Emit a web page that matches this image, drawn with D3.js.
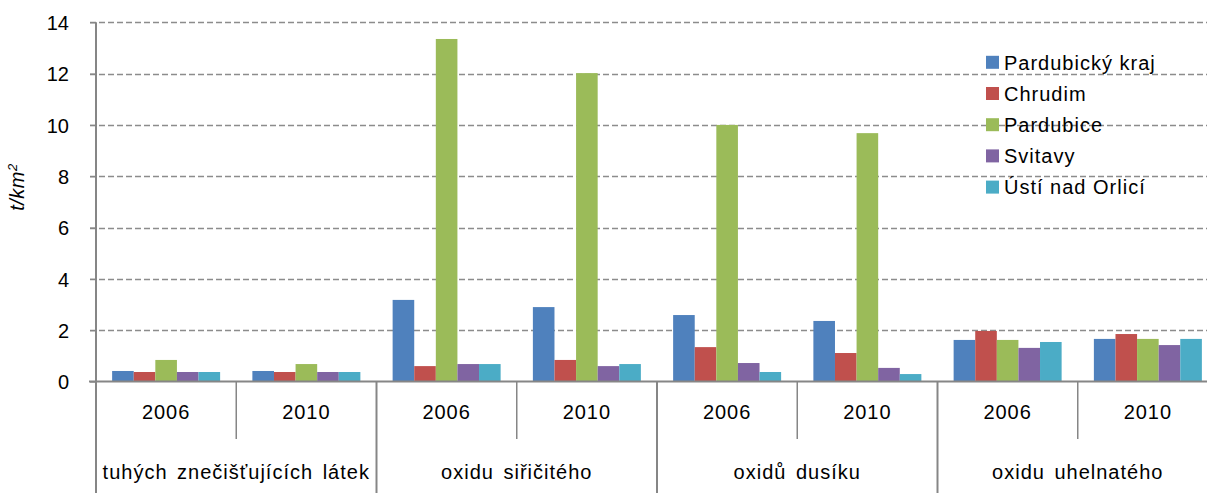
<!DOCTYPE html>
<html>
<head>
<meta charset="utf-8">
<script src="https://cdn.jsdelivr.net/npm/d3@7"></script>
<style>
  html, body { margin: 0; padding: 0; background: #fff; }
  svg { display: block; overflow: hidden; font-family: "Liberation Sans", Arial, sans-serif; }
  .lbl { font-size: 20px; fill: #000; letter-spacing: 1px; }
</style>
</head>
<body>
<div id="chart"></div>
<script>
// data
const pollutants = ['tuhých znečišťujících látek', 'oxidu siřičitého', 'oxidů dusíku', 'oxidu uhelnatého']
const years = ['2006', '2010']
const regions = ['Pardubický kraj', 'Chrudim', 'Pardubice', 'Svitavy', 'Ústí nad Orlicí']
const colors = ['#4F81BD', '#C0504D', '#9BBB59', '#8064A2', '#4BACC6']

// one value per pollutant/year, in region order
const pardubickyKraj = [0.41, 0.41, 3.18, 2.90, 2.59, 2.36, 1.62, 1.66]
const chrudim        = [0.37, 0.37, 0.60, 0.84, 1.34, 1.11, 1.97, 1.85]
const pardubice      = [0.84, 0.68, 13.35, 12.02, 10.0, 9.68, 1.62, 1.66]
const svitavy        = [0.37, 0.37, 0.68, 0.60, 0.72, 0.53, 1.31, 1.42]
const ustiNadOrlici  = [0.37, 0.37, 0.68, 0.68, 0.37, 0.29, 1.54, 1.66]
const yTicks = [0, 2, 4, 6, 8, 10, 12, 14]

const seriesValues = [pardubickyKraj, chrudim, pardubice, svitavy, ustiNadOrlici]

const width = 1207, height = 493
const plotLeft = 96, plotRight = 1218, plotTop = 22.3, zeroY = 381.5

const groups = []
pollutants.forEach(p => years.forEach(yr => groups.push({ pollutant: p, year: yr, key: p + '|' + yr })))

const svg = d3.select('#chart').append('svg')
    .attr('width', width)
    .attr('height', height)

const x0 = d3.scaleBand()
    .domain(groups.map(g => g.key))
    .range([plotLeft, plotRight])
    .padding(0)

const bw = x0.bandwidth()
const x1 = d3.scaleBand()
    .domain(regions)
    .range([bw * 0.115, bw * 0.885])
    .padding(0)

const y = d3.scaleLinear()
    .domain([0, 14])
    .range([zeroY, plotTop])

// dashed gridlines
svg.append('g')
  .selectAll('line')
  .data(yTicks.filter(t => t > 0))
  .enter().append('line')
    .attr('x1', plotLeft - 6)
    .attr('x2', plotRight)
    .attr('y1', d => Math.round(y(d)) + 0.5)
    .attr('y2', d => Math.round(y(d)) + 0.5)
    .attr('stroke', '#8c8c8c')
    .attr('stroke-width', 1.3)
    .attr('stroke-dasharray', '6,3')

// y axis labels + ticks
const yAxis = svg.append('g')
    .attr('transform', 'translate(' + plotLeft + ',0)')
    .call(d3.axisLeft(y).tickValues(yTicks).tickSize(6).tickPadding(21).tickFormat(d3.format('d')))
yAxis.select('.domain').remove()
yAxis.selectAll('.tick line').attr('stroke', '#868686').attr('stroke-width', 1.3)
yAxis.selectAll('.tick text')
    .attr('class', 'lbl')
    .attr('fill', '#000')
    .style('font-family', '"Liberation Sans", Arial, sans-serif')
    .style('letter-spacing', '0px')
    .attr('dy', '0.36em')

// bars
const barGroups = svg.append('g')
  .selectAll('g')
  .data(groups)
  .enter().append('g')
    .attr('transform', d => 'translate(' + x0(d.key) + ',0)')

barGroups.selectAll('rect')
  .data((d, i) => regions.map((r, s) => ({ region: r, s: s, value: seriesValues[s][i] })))
  .enter().append('rect')
    .attr('x', d => x1(d.region))
    .attr('width', x1.bandwidth())
    .attr('y', d => y(d.value))
    .attr('height', d => y(0) - y(d.value))
    .attr('fill', d => colors[d.s])

// axis lines
svg.append('line')
    .attr('x1', plotLeft - 7).attr('x2', plotRight)
    .attr('y1', zeroY).attr('y2', zeroY)
    .attr('stroke', '#868686').attr('stroke-width', 2)
svg.append('line')
    .attr('x1', plotLeft).attr('x2', plotLeft)
    .attr('y1', plotTop).attr('y2', height)
    .attr('stroke', '#868686').attr('stroke-width', 2)

// category separators
const cat = svg.append('g')
groups.forEach((g, i) => {
  if (i === 0) return
  const isCatEdge = i % years.length === 0
  cat.append('line')
      .attr('x1', x0(g.key)).attr('x2', x0(g.key))
      .attr('y1', zeroY).attr('y2', isCatEdge ? height : 439)
      .attr('stroke', '#868686').attr('stroke-width', isCatEdge ? 2 : 1.5)
})

// year labels
cat.selectAll('text.year')
  .data(groups)
  .enter().append('text')
    .attr('class', 'lbl year')
    .attr('x', d => x0(d.key) + bw / 2)
    .attr('y', 412)
    .attr('dy', '0.36em')
    .attr('text-anchor', 'middle')
    .text(d => d.year)

// pollutant labels
cat.selectAll('text.pol')
  .data(pollutants)
  .enter().append('text')
    .attr('class', 'lbl pol')
    .attr('x', (d, i) => x0(groups[i * 2].key) + bw)
    .attr('y', 472)
    .attr('dy', '0.36em')
    .attr('text-anchor', 'middle')
    .style('word-spacing', '3px')
    .text(d => d)

// y title
svg.append('text')
    .attr('class', 'lbl')
    .attr('transform', 'translate(17,187) rotate(-90)')
    .attr('dy', '0.36em')
    .attr('text-anchor', 'middle')
    .style('font-style', 'italic')
    .style('letter-spacing', '0.5px')
    .html('t/km<tspan dy="-7" font-size="13">2</tspan>')

// legend
const legend = svg.append('g')
  .selectAll('g')
  .data(regions)
  .enter().append('g')
    .attr('transform', (d, i) => 'translate(986,' + (62.3 + i * 31.2) + ')')
legend.append('rect')
    .attr('x', 0).attr('y', -6.5)
    .attr('width', 13).attr('height', 13)
    .attr('fill', (d, i) => colors[i])
legend.append('text')
    .attr('class', 'lbl')
    .attr('x', 18)
    .attr('dy', '0.36em')
    .text(d => d)
</script>
</body>
</html>
